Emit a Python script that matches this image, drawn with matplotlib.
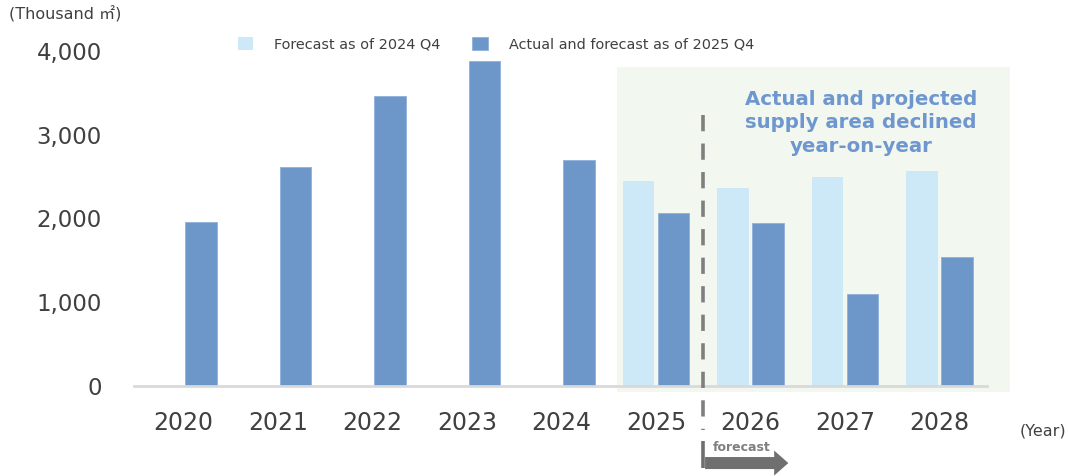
import matplotlib.pyplot as plt
import matplotlib.patches as mpatches
import numpy as np

years = ['2020', '2021', '2022', '2023', '2024', '2025', '2026', '2027', '2028']
forecast_2024q4 = [0, 0, 0, 0, 0, 2450, 2370, 2490, 2570]
actual_2025q4 = [1960, 2610, 3465, 3880, 2700, 2065, 1950, 1100, 1535]
yticks = [0, 1000, 2000, 3000, 4000]

light = '#CDE8F6'
dark = '#6D96C9'
text_col = '#404040'

plt.rcParams['font.family'] = ['DejaVu Sans', 'Noto Sans CJK JP']

fig = plt.figure(figsize=(10.68, 4.76), dpi=100)
ax = fig.add_axes([134 / 1068, 90 / 476, 853 / 1068, 335 / 476])
ax.patch.set_visible(False)

# green shaded forecast zone (figure coords, extends past axes)
shade = mpatches.Rectangle((617 / 1068, 84 / 476), 393 / 1068, 325 / 476,
                           transform=fig.transFigure, facecolor='#F2F7F0',
                           edgecolor='none', zorder=-5)
fig.add_artist(shade)

x = np.arange(len(years))
w = 0.33
off = 0.185
ax.bar(x - off, forecast_2024q4, w, color=light, label='Forecast as of 2024 Q4', zorder=2)
ax.bar(x + off, actual_2025q4, w, color=dark, edgecolor='#8FB0DA', linewidth=0.6,
       label='Actual and forecast as of 2025 Q4', zorder=2)

ax.set_xlim(-0.524, 8.503)
ax.set_ylim(0, 4000)
ax.set_xticks(x)
ax.set_xticklabels(years)
ax.set_yticks(yticks)
ax.set_yticklabels([f'{v:,}' for v in yticks])
ax.tick_params(axis='x', length=0, pad=18, labelsize=17, labelcolor=text_col)
ax.tick_params(axis='y', length=0, pad=23, labelsize=16.5, labelcolor=text_col)
for s in ['top', 'right', 'left']:
    ax.spines[s].set_visible(False)
ax.spines['bottom'].set_color('#D9D9D9')
ax.spines['bottom'].set_linewidth(2)

# divider between actual and forecast
tr = ax.get_xaxis_transform()
ax.plot([5.5, 5.5], [0.809, -0.13], transform=tr, clip_on=False, color='#7F7F7F',
        lw=2.6, dashes=(4.5, 3.4), zorder=3)
ax.plot([5.5, 5.5], [-0.165, -0.245], transform=tr, clip_on=False, color='#6F6F6F',
        lw=2.6, solid_capstyle='butt', zorder=3)
ax.annotate('', xy=(6.43, -0.23), xytext=(5.49, -0.23), xycoords=tr, textcoords=tr,
            annotation_clip=False,
            arrowprops=dict(arrowstyle='simple,head_width=1.5,head_length=0.85,tail_width=0.72',
                            mutation_scale=12, color='#6F6F6F', lw=0))
ax.text(5.6, -0.183, 'forecast', transform=tr, fontsize=9, fontweight='bold',
        color='#7F7F7F', ha='left', va='center')

ax.text(861 / 1068, 1 - 123 / 476, 'Actual and projected\nsupply area declined\nyear-on-year',
        transform=fig.transFigure, ha='center', va='center', fontsize=14.2,
        fontweight='bold', color='#6F97CF', linespacing=1.28)

fig.text(9 / 1068, 1 - 14 / 476, '(Thousand ㎡)', fontsize=11.5, color=text_col,
         ha='left', va='center')
fig.text(1066 / 1068, 1 - 431 / 476, '(Year)', fontsize=11.5, color=text_col,
         ha='right', va='center')

leg = ax.legend(loc='center', bbox_to_anchor=(496 / 1068, 1 - 44 / 476),
                bbox_transform=fig.transFigure, ncol=2, frameon=False,
                fontsize=10.4, handlelength=1.05, handleheight=1.05,
                handletextpad=1.45, columnspacing=2.2)
for t in leg.get_texts():
    t.set_color(text_col)

fig.savefig('out.png', dpi=100)
